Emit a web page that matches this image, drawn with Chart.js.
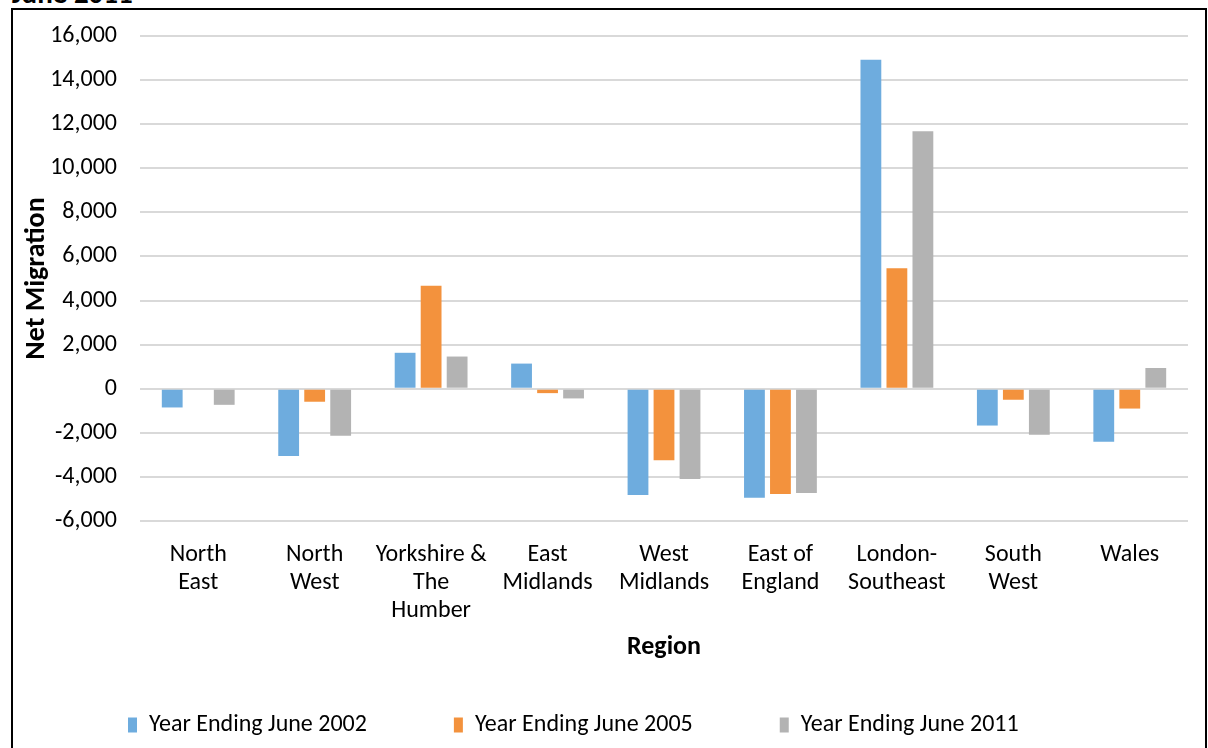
<!DOCTYPE html>
<html>
<head>
<meta charset="utf-8">
<title>Net Migration by Region</title>
<script src="https://cdn.jsdelivr.net/npm/chart.js@4.4.0/dist/chart.umd.min.js"></script>
<style>
  body { margin: 0; background: #fff; overflow: hidden; }
  #title {
    position: absolute; left: 12px; top: -21px;
    font: bold 29px Carlito, Lato, sans-serif; line-height: 29px; color: #000;
  }
  #frame {
    position: absolute; left: 11px; top: 8px; width: 1192px; height: 800px;
    border: 2px solid #000;
  }
  #chartBox { position: absolute; left: 13px; top: 10px; }
</style>
</head>
<body>
<div id="title">June 2011</div>
<div id="frame"></div>
<div id="chartBox"><canvas id="myChart" width="1194" height="738"></canvas></div>
<script>
// regions (x axis), multi line like the excel labels
var regions = [
  ["North", "East"],
  ["North", "West"],
  ["Yorkshire &", "The", "Humber"],
  ["East", "Midlands"],
  ["West", "Midlands"],
  ["East of", "England"],
  ["London-", "Southeast"],
  ["South", "West"],
  ["Wales"]
];

// net migration values
var year2002 = [-850, -3050, 1630, 1140, -4820, -4940, 14920, -1670, -2400];
var year2005 = [0, -590, 4670, -200, -3240, -4780, 5470, -500, -900];
var year2011 = [-730, -2130, 1460, -440, -4090, -4730, 11680, -2090, 940];

var seriesNames = ["Year Ending June 2002", "Year Ending June 2005", "Year Ending June 2011"];
var seriesColors = ["#6eacde", "#f3923d", "#b3b3b3"];

// y axis range
var yMin = -6000;
var yMax = 16000;
var yStep = 2000;

var fontFamily = "Carlito, Lato, sans-serif";
var gridColor = "#d9d9d9";

var ctx = document.getElementById('myChart').getContext('2d');
var chart = new Chart(ctx, {
  type: 'bar',
  data: {
    labels: regions,
    datasets: [
      { label: seriesNames[0], data: year2002, backgroundColor: seriesColors[0] },
      { label: seriesNames[1], data: year2005, backgroundColor: seriesColors[1] },
      { label: seriesNames[2], data: year2011, backgroundColor: seriesColors[2] }
    ]
  },
  options: {
    responsive: false,
    animation: false,
    categoryPercentage: 0.67,
    barPercentage: 0.8,
    layout: {
      padding: { top: 26, right: 19, bottom: 1, left: 28 }
    },
    plugins: {
      tooltip: { enabled: false },
      legend: {
        position: 'bottom',
        align: 'start',
        labels: {
          boxWidth: 9,
          boxHeight: 15,
          padding: 87,
          color: '#000',
          font: { family: fontFamily, size: 24 }
        }
      }
    },
    scales: {
      x: {
        grid: { display: false, drawTicks: false, tickLength: 0 },
        border: { display: false },
        ticks: {
          color: '#000',
          maxRotation: 0,
          autoSkip: false,
          padding: 20,
          font: { family: fontFamily, size: 24, lineHeight: 1.167 }
        },
        title: {
          display: true,
          text: 'Region',
          color: '#000',
          font: { family: fontFamily, size: 26, weight: 'bold', lineHeight: 1.2 },
          padding: { top: 0, bottom: -37 }
        },
        afterFit: function (scale) { scale.height = 105; }
      },
      y: {
        min: yMin,
        max: yMax,
        // invisible tick marks just push the labels away from the plot
        grid: { color: gridColor, lineWidth: 2, drawTicks: true, tickLength: 23, tickColor: 'rgba(0,0,0,0)' },
        border: { display: false },
        ticks: {
          stepSize: yStep,
          color: '#000',
          padding: 0,
          font: { family: fontFamily, size: 24 },
          callback: function (v) { return v.toLocaleString('en-US'); }
        },
        title: {
          display: true,
          text: 'Net Migration',
          color: '#000',
          font: { family: fontFamily, size: 28, weight: 'bold', lineHeight: 1.2 },
          padding: { top: -21, bottom: 0 }
        },
        afterFit: function (scale) { scale.width = 99; }
      }
    }
  }
});
</script>
</body>
</html>
